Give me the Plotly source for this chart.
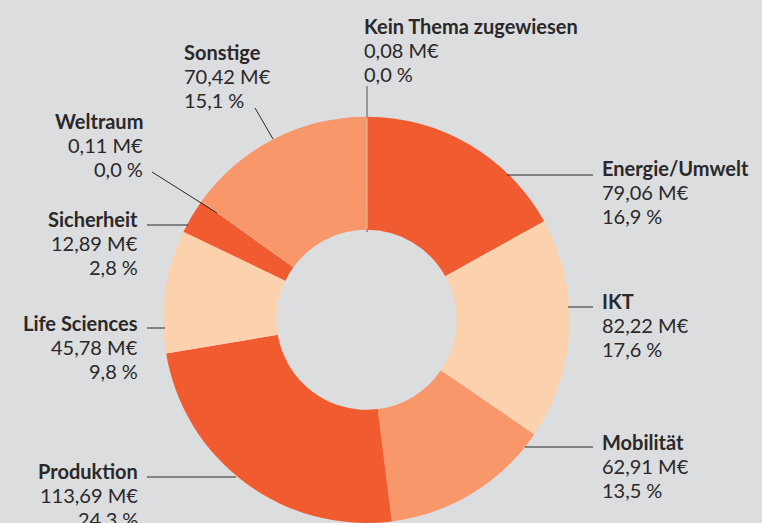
import plotly.graph_objects as go

# ---- data ----
categories = ["Kein Thema zugewiesen", "Energie/Umwelt", "IKT", "Mobilität", "Produktion",
              "Life Sciences", "Sicherheit", "Weltraum", "Sonstige"]
values = [0.08, 79.06, 82.22, 62.91, 113.69, 45.78, 12.89, 0.11, 70.42]

# ---- styles ----
DARK = "#f15b30"
MED = "#f7976a"
LIGHT = "#fcd1ae"
slice_colors = [LIGHT, DARK, LIGHT, MED, DARK, LIGHT, DARK, LIGHT, MED]
BG = "#dcdddf"
TXT = "#2a2829"
FONT = "Lato, sans-serif"
FS = 20
LINE = 24

W, H = 762, 523

def px(x):
    return x / W

def py(y):
    return 1 - y / H

def fmt(v, d):
    return f"{v:.{d}f}".replace(".", ",")

total = sum(values)

# label layout: (anchor x px, middle-line y px, side)
label_pos = {
    "Kein Thema zugewiesen": (362, 50, "left"),
    "Sonstige": (182, 76, "left"),
    "Weltraum": (145, 145, "right"),
    "Sicherheit": (140, 243, "right"),
    "Life Sciences": (140, 347, "right"),
    "Produktion": (140, 495, "right"),
    "Energie/Umwelt": (600, 192, "left"),
    "IKT": (600, 325, "left"),
    "Mobilität": (600, 466, "left"),
}

# leader lines (pixel coordinates)
leaders = {
    "Kein Thema zugewiesen": ((367, 86), (367, 232)),
    "Energie/Umwelt": ((507, 175), (593, 175)),
    "IKT": ((568, 307), (593, 307)),
    "Mobilität": ((525, 447), (593, 447)),
    "Produktion": ((147, 477), (236, 477)),
    "Life Sciences": ((147, 328), (165, 328)),
    "Sicherheit": ((147, 225), (188, 225)),
    "Weltraum": ((152, 172), (217, 213)),
    "Sonstige": ((255, 108), (273, 139)),
}

fig = go.Figure(go.Pie(
    labels=categories,
    values=values,
    sort=False,
    direction="clockwise",
    rotation=0,
    hole=0.443,
    marker=dict(colors=slice_colors, line=dict(width=0)),
    textinfo="none",
    hoverinfo="label+value+percent",
    showlegend=False,
    domain=dict(x=[163 / W, 570 / W], y=[0, 0.777]),
))

annotations = []
for cat, val in zip(categories, values):
    x, y, side = label_pos[cat]
    pct = val / total * 100
    lines = [f"<b>{cat}</b>", f"{fmt(val, 2)} M€", f"{fmt(pct, 1)}\u202f%"]
    for i, t in enumerate(lines):
        annotations.append(dict(
            x=px(x), y=py(y + (i - 1) * LINE), xref="paper", yref="paper",
            xanchor=side, yanchor="middle", align=side,
            text=t, showarrow=False,
            font=dict(family=FONT, size=FS, color=TXT),
        ))

shapes = []
for cat, ((x0, y0), (x1, y1)) in leaders.items():
    shapes.append(dict(
        type="line", xref="paper", yref="paper",
        x0=px(x0), y0=py(y0), x1=px(x1), y1=py(y1),
        line=dict(color="#2a2829" if cat != "Kein Thema zugewiesen" else "#555555", width=1),
        layer="below" if cat == "Kein Thema zugewiesen" else "above",
    ))
# light trace of the tiny slice inside the ring
shapes.append(dict(type="line", xref="paper", yref="paper",
                   x0=px(367), y0=py(118), x1=px(367), y1=py(229),
                   line=dict(color="#f4c3a5", width=1), layer="above"))

fig.update_layout(
    width=W, height=H,
    margin=dict(l=0, r=0, t=0, b=0),
    paper_bgcolor=BG, plot_bgcolor=BG,
    annotations=annotations,
    shapes=shapes,
)

fig.write_html(
    "out.html",
    config={"displayModeBar": False},
    post_script="document.body.style.margin='0';document.body.style.overflow='hidden';",
)
